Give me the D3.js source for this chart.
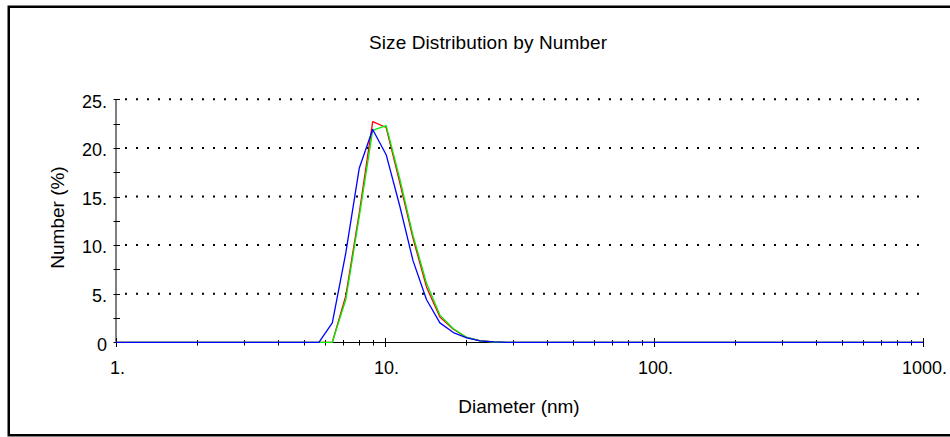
<!DOCTYPE html>
<html>
<head>
<meta charset="utf-8">
<script src="https://cdn.jsdelivr.net/npm/d3@7"></script>
<style>
  html, body { margin: 0; padding: 0; background: #fff; }
  svg { display: block; font-family: "Liberation Sans", Arial, sans-serif; }
</style>
</head>
<body>
<svg id="chart" width="950" height="437"></svg>
<script>
// Size classes (nm) and number distribution (%) for three measurements
const diameters = [1, 5.68, 6.37, 7.15, 8.02, 9.0, 10.1, 11.33, 12.71, 14.26, 16.0, 17.95, 20.14, 22.6, 25.36, 28.45, 1000];
const runRed   = [0, 0, 0, 4.8, 13.3, 22.7, 22.1, 16.5, 10.7, 5.7, 2.6, 1.35, 0.5, 0.15, 0.03, 0, 0];
const runGreen = [0, 0, 0, 4.4, 12.9, 21.8, 22.3, 16.9, 11.0, 6.1, 2.8, 1.4, 0.5, 0.15, 0.03, 0, 0];
const runBlue  = [0, 0, 2.0, 9.2, 17.9, 21.9, 19.3, 14.1, 8.4, 4.4, 2.0, 1.0, 0.45, 0.15, 0.05, 0, 0];

const xMajorTicks = [1, 10, 100, 1000];
const yMajorTicks = [0, 5, 10, 15, 20, 25];
const yMinorTicks = [2.5, 7.5, 12.5, 17.5, 22.5];
const gridValues  = [5, 10, 15, 20, 25];

const titleText = "Size Distribution by Number";
const xTitle = "Diameter (nm)";
const yTitle = "Number (%)";

const svg = d3.select("#chart");

// Outer frame
svg.append("rect")
  .attr("x", 8.75).attr("y", 6.75)
  .attr("width", 980).attr("height", 428.5)
  .attr("fill", "none").attr("stroke", "#000").attr("stroke-width", 2.5);

const x = d3.scaleLog().domain([1, 1000]).range([116, 923]);
const y = d3.scaleLinear().domain([0, 25]).range([342.3, 99.3]);

// Dotted horizontal grid
svg.append("g").selectAll("line").data(gridValues).join("line")
  .attr("x1", 125).attr("x2", x(1000))
  .attr("y1", d => y(d)).attr("y2", d => y(d))
  .attr("stroke", "#000").attr("stroke-width", 2)
  .attr("stroke-dasharray", "2 9");

// Y axis line and ticks
svg.append("line")
  .attr("x1", x(1)).attr("x2", x(1))
  .attr("y1", y(25)).attr("y2", y(0))
  .attr("stroke", "#000").attr("stroke-width", 1);
svg.append("g").selectAll("line").data(yMajorTicks.concat(yMinorTicks)).join("line")
  .attr("x1", x(1) - 2.5).attr("x2", x(1) + 4)
  .attr("y1", d => Math.round(y(d)) + 0.5).attr("y2", d => Math.round(y(d)) + 0.5)
  .attr("stroke", "#000").attr("stroke-width", 1);
svg.append("g").selectAll("text").data(yMajorTicks).join("text")
  .attr("x", 107).attr("y", d => y(d) + 1.8)
  .attr("dy", "0.358em")
  .attr("text-anchor", "end")
  .attr("font-size", 18).attr("fill", "#000")
  .text(d => d === 0 ? "0" : d + ".");

// X axis line and ticks
const xMinorTicks = [];
[1, 10, 100].forEach(dec => { for (let k = 2; k <= 9; k++) xMinorTicks.push(dec * k); });
svg.append("line")
  .attr("x1", x(1)).attr("x2", x(1000))
  .attr("y1", 342.5).attr("y2", 342.5)
  .attr("stroke", "#000").attr("stroke-width", 1);
svg.append("g").selectAll("line").data(xMinorTicks).join("line")
  .attr("x1", d => Math.round(x(d)) + 0.5).attr("x2", d => Math.round(x(d)) + 0.5)
  .attr("y1", 340).attr("y2", 345.5)
  .attr("stroke", "#000").attr("stroke-width", 1);
svg.append("g").selectAll("line").data(xMajorTicks).join("line")
  .attr("x1", d => Math.round(x(d)) + 0.5).attr("x2", d => Math.round(x(d)) + 0.5)
  .attr("y1", 338).attr("y2", 347)
  .attr("stroke", "#000").attr("stroke-width", 1);
svg.append("g").selectAll("text").data(xMajorTicks).join("text")
  .attr("x", d => x(d) + 1.5).attr("y", 374)
  .attr("text-anchor", "middle")
  .attr("font-size", 18).attr("fill", "#000")
  .text(d => d + ".");

// Distribution curves
const line = d3.line()
  .x((d, i) => x(diameters[i]))
  .y(d => y(d));
[[runRed, "#ff0000"], [runGreen, "#00f000"], [runBlue, "#0000ff"]].forEach(([vals, col]) => {
  svg.append("path")
    .datum(vals)
    .attr("d", line)
    .attr("fill", "none")
    .attr("stroke", col)
    .attr("stroke-width", 1.3)
    .attr("stroke-linejoin", "round");
});

// Titles
svg.append("text")
  .attr("x", 488).attr("y", 49)
  .attr("text-anchor", "middle")
  .attr("font-size", 19)
  .attr("textLength", 238).attr("lengthAdjust", "spacing")
  .text(titleText);
svg.append("text")
  .attr("x", 519).attr("y", 413)
  .attr("text-anchor", "middle")
  .attr("font-size", 19)
  .text(xTitle);
svg.append("text")
  .attr("transform", "translate(57,217.5) rotate(-90)")
  .attr("dy", "0.35em")
  .attr("text-anchor", "middle")
  .attr("font-size", 19)
  .text(yTitle);
</script>
</body>
</html>
